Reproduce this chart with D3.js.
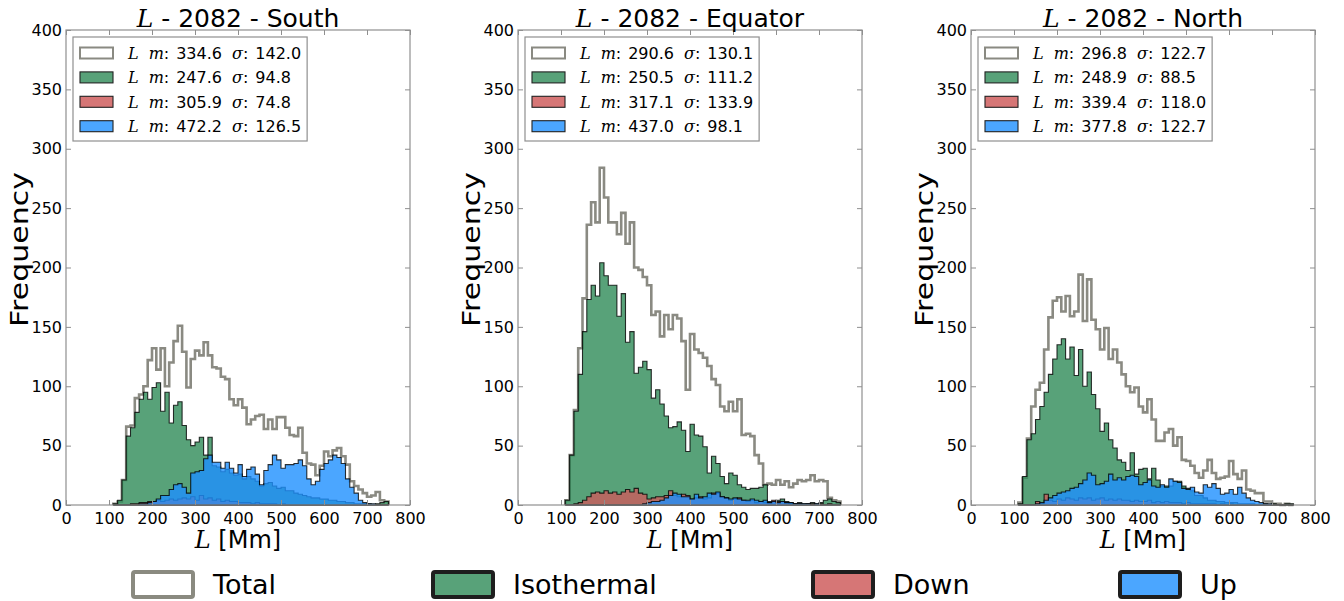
<!DOCTYPE html>
<html>
<head>
<meta charset="utf-8">
<script src="https://cdn.jsdelivr.net/npm/d3@7"></script>
<style>
  body { margin: 0; background: #fff; }
  text { font-family: "DejaVu Sans", sans-serif; fill: #000; }
  .math { font-family: "DejaVu Serif", serif; font-style: italic; }
</style>
</head>
<body>
<svg id="chart" width="1344" height="601"></svg>
<script>
// histogram bins: 10 Mm wide, starting at 110 Mm
const binStart = 110;
const binWidth = 10;
const xTicks = [0, 100, 200, 300, 400, 500, 600, 700, 800];
const yTicks = [0, 50, 100, 150, 200, 250, 300, 350, 400];
const regions = ["South", "Equator", "North"];
const seriesNames = ["Total", "Isothermal", "Down", "Up"];

const southTotal = [1,3,21,66,67,90,93,100,122,132, 114,132,100,120,138,151,129,99,123,130, 126,137,126,116,115,108,106,89,84,89, 82,68,72,75,76,64,72,64,74,74, 65,59,58,65,44,35,34,25,33,45, 41,46,48,41,34,20,16,13,10,7, 8,11,4,3];
const southIso = [1,4,21,58,65,78,89,95,89,99, 103,79,95,69,84,87,67,55,50,53, 57,42,57,33,32,28,30,27,25,26, 22,24,22,20,16,18,19,16,14,15, 12,12,10,9,8,7,6,6,5,5, 4,4,3,3,2,2,1,1,1,1, 0,1,2,3];
const southDown = [0,0,0,0,1,1,2,2,3,3, 4,3,4,5,4,5,6,5,7,4, 8,5,6,4,5,3,4,3,3,2, 2,2,1,2,1,1,1,1,0,1, 0,0,0,0,0,0,0,0,0,0, 0,0,0,0,0,0,0,0,0,0, 0,0,0,0];
const southUp = [0,0,0,0,0,0,1,1,2,3, 5,8,8,13,17,18,15,10,27,28, 29,39,42,36,36,31,36,31,27,34, 24,30,32,26,17,29,34,42,38,31, 34,34,35,38,33,22,17,20,30,35, 38,42,40,35,22,15,10,4,2,1, 1,0,0,0];

const equatorTotal = [4,42,80,132,174,236,255,238,284,259, 238,238,228,246,220,238,200,198,192,185, 160,163,142,160,148,160,157,138,97,144, 131,128,124,117,106,101,83,79,87,79, 89,59,60,58,42,35,17,18,17,21, 17,20,15,18,21,20,21,25,20,21, 20,6,4,3];
const equatorIso = [4,42,79,110,146,173,185,176,204,193, 185,185,159,178,137,146,111,116,121,114, 90,97,85,75,65,66,70,63,45,68, 59,58,49,27,41,35,24,18,27,25, 17,15,13,14,14,15,17,3,3,4, 5,3,2,1,2,1,1,2,1,2, 4,5,3,2];
const equatorDown = [0,0,1,2,4,7,10,11,10,12, 10,11,9,11,13,11,14,10,9,5, 6,7,7,8,12,8,7,9,8,5, 6,7,5,6,10,10,7,6,4,5, 6,4,3,4,2,3,2,2,4,3, 3,2,1,1,1,0,1,1,0,1, 0,1,0,0];
const equatorUp = [0,0,0,0,0,0,0,0,0,0, 0,0,0,0,0,0,0,0,1,2, 3,3,4,6,8,10,9,7,7,5, 9,6,7,10,9,11,7,6,5,6, 5,4,4,5,4,3,4,2,3,2, 3,2,2,1,1,1,1,0,1,0, 0,0,0,0];

const northTotal = [2,23,56,83,97,103,131,158,172,175, 163,176,159,163,194,155,190,156,148,131, 149,123,131,120,110,100,95,99,83,78, 89,72,54,54,61,64,50,57,38,37, 33,27,23,29,38,27,22,23,24,37, 26,22,29,13,12,10,10,3,3,1, 1,0,1,0];
const northIso = [1,24,55,60,72,83,95,110,123,135, 140,123,133,109,131,100,112,93,81,62, 69,55,48,38,36,29,44,26,30,31, 22,31,21,16,16,16,20,20,16,14, 12,8,8,6,4,4,3,3,2,2, 2,1,1,1,1,0,0,1,0,1, 0,0,1,1];
const northDown = [0,0,0,0,3,1,9,4,3,5, 4,6,5,4,6,5,6,4,5,6, 4,5,4,5,4,4,3,4,3,3, 4,2,3,2,3,2,2,2,1,2, 1,1,1,1,1,1,0,1,0,1, 0,0,0,0,0,0,0,0,0,0, 0,0,0,0];
const northUp = [0,0,0,0,1,2,4,6,8,10, 11,12,14,15,18,21,27,25,17,18, 20,26,21,23,21,24,25,24,17,19, 21,16,15,17,15,22,20,19,14,13, 15,11,10,17,15,18,14,9,10,13, 9,15,10,6,4,3,2,1,1,0, 0,0,0,0];

// legend stats per panel (Total, Isothermal, Down, Up)
const southMeans = [334.6, 247.6, 305.9, 472.2];
const southSigmas = [142.0, 94.8, 74.8, 126.5];
const equatorMeans = [290.6, 250.5, 317.1, 437.0];
const equatorSigmas = [130.1, 111.2, 133.9, 98.1];
const northMeans = [296.8, 248.9, 339.4, 377.8];
const northSigmas = [122.7, 88.5, 118.0, 122.7];

const panels = [
    { name: regions[0], series: [southTotal, southIso, southDown, southUp], means: southMeans, sigmas: southSigmas },
    { name: regions[1], series: [equatorTotal, equatorIso, equatorDown, equatorUp], means: equatorMeans, sigmas: equatorSigmas },
    { name: regions[2], series: [northTotal, northIso, northDown, northUp], means: northMeans, sigmas: northSigmas }
];

// styles for Total, Isothermal, Down, Up
const fills = ["none", "rgba(46,139,87,0.8)", "rgba(205,92,92,0.8)", "rgba(30,144,255,0.8)"];
const strokes = ["#8a8a82", "rgba(0,0,0,0.8)", "rgba(0,0,0,0.8)", "rgba(0,0,0,0.8)"];
const legendFills = ["#fff", "#58a279", "#d67676", "#4ba6ff"];

const width = 344;
const height = 475;
const plotTop = 30;
const panelLefts = [66, 518, 971];
const frameColor = "#8f8f8f";

const svg = d3.select("#chart");

const xScale = d3.scaleLinear().domain([0, 800]).range([0, width]);
const yScale = d3.scaleLinear().domain([0, 400]).range([height, 0]);

function stepPoints(values) {
    const pts = [[binStart, 0]];
    values.forEach((v, i) => {
        const x0 = binStart + i * binWidth;
        pts.push([x0, v], [x0 + binWidth, v]);
    });
    pts.push([binStart + values.length * binWidth, 0]);
    return pts;
}

const line = d3.line().x(d => xScale(d[0])).y(d => yScale(d[1]));

panels.forEach((p, pi) => {
    const g = svg.append("g").attr("transform", `translate(${panelLefts[pi]},${plotTop})`);

    // histograms: total outline first, then filled ones
    p.series.forEach((vals, si) => {
        g.append("path")
            .attr("d", line(stepPoints(vals)) + (si === 0 ? "" : "Z"))
            .attr("fill", fills[si])
            .attr("stroke", strokes[si])
            .attr("stroke-width", si === 0 ? 2.6 : 1.1)
            .attr("stroke-linejoin", "miter");
    });

    // frame
    g.append("rect")
        .attr("width", width).attr("height", height)
        .attr("fill", "none").attr("stroke", frameColor).attr("stroke-width", 1.2);

    // axes with inward ticks on all sides
    const bottom = g.append("g").attr("transform", `translate(0,${height})`)
        .call(d3.axisBottom(xScale).tickValues(xTicks).tickSize(-5).tickPadding(5));
    const topAx = g.append("g")
        .call(d3.axisTop(xScale).tickValues(xTicks).tickSize(-5).tickFormat(""));
    const left = g.append("g")
        .call(d3.axisLeft(yScale).tickValues(yTicks).tickSize(-5).tickPadding(4));
    const right = g.append("g").attr("transform", `translate(${width},0)`)
        .call(d3.axisRight(yScale).tickValues(yTicks).tickSize(-5).tickFormat(""));
    [bottom, topAx, left, right].forEach(a => {
        a.select(".domain").remove();
        a.selectAll(".tick line").attr("stroke", frameColor);
        a.selectAll(".tick text").style("font-size", "16px").attr("fill", "#000");
    });
    bottom.selectAll(".tick text").attr("dy", "0.9em");

    // title
    const title = g.append("text")
        .attr("x", width / 2).attr("y", -3)
        .attr("text-anchor", "middle")
        .style("font-size", "25px");
    title.append("tspan").attr("class", "math").text("L");
    title.append("tspan").text(` - 2082 - ${p.name}`);

    // axis labels
    g.append("text")
        .attr("transform", `translate(-38,${height / 2 - 18}) rotate(-90) scale(1,0.82)`)
        .attr("text-anchor", "middle")
        .style("font-size", "30px")
        .text("Frequency");
    const xl = g.append("text")
        .attr("x", width / 2).attr("y", height + 43)
        .attr("text-anchor", "middle")
        .style("font-size", "24px");
    xl.append("tspan").attr("class", "math").text("L");
    xl.append("tspan").text(" [Mm]");

    // inner legend
    const lg = g.append("g").attr("transform", "translate(7,7)");
    const box = lg.append("rect")
        .attr("height", 104)
        .attr("fill", "#fff").attr("stroke", frameColor).attr("stroke-width", 1.2);
    let maxRight = 0;
    seriesNames.forEach((s, si) => {
        const cy = 16 + si * 24.4;
        lg.append("rect")
            .attr("x", 7).attr("y", cy - 5.5).attr("width", 33).attr("height", 11)
            .attr("fill", legendFills[si])
            .attr("stroke", si === 0 ? "#8a8a82" : "#222")
            .attr("stroke-width", si === 0 ? 2 : 1.1);
        const t = lg.append("text")
            .attr("x", 55).attr("y", cy + 6)
            .style("font-size", "16px");
        t.append("tspan").attr("class", "math").text("L");
        t.append("tspan").attr("class", "math").attr("dx", 10).text("m");
        t.append("tspan").text(":");
        t.append("tspan").attr("dx", 7).text(p.means[si].toFixed(1));
        t.append("tspan").attr("class", "math").attr("dx", 10).text("σ");
        t.append("tspan").text(":");
        t.append("tspan").attr("dx", 7).text(p.sigmas[si].toFixed(1));
        const bb = t.node().getBBox();
        maxRight = Math.max(maxRight, bb.x + bb.width);
    });
    box.attr("width", maxRight + 6);
});

// bottom legend
const bottomX = [133, 433, 813, 1120];
seriesNames.forEach((s, si) => {
    svg.append("rect")
        .attr("x", bottomX[si]).attr("y", 572).attr("width", 60).attr("height", 25).attr("rx", 2)
        .attr("fill", legendFills[si])
        .attr("stroke", si === 0 ? "#8a8a80" : "#1e1e1e")
        .attr("stroke-width", 4);
    svg.append("text")
        .attr("x", bottomX[si] + 80).attr("y", 594)
        .style("font-size", "27px")
        .attr("fill", "#222")
        .text(s);
});
</script>
</body>
</html>
